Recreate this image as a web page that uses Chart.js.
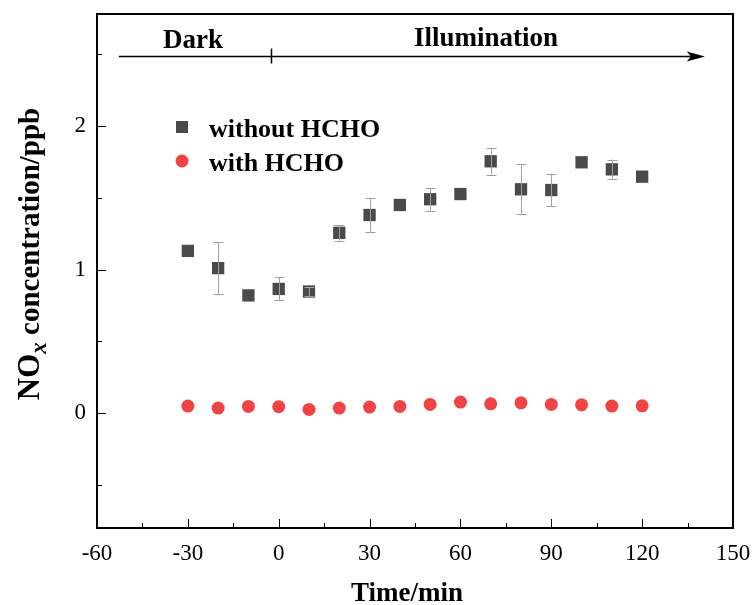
<!DOCTYPE html>
<html>
<head>
<meta charset="utf-8">
<script src="https://cdn.jsdelivr.net/npm/chart.js@4"></script>
<style>
html,body{margin:0;padding:0;background:#fff;}
#wrap{width:756px;height:605px;position:relative;}
</style>
</head>
<body>
<div id="wrap"><canvas id="c" width="756" height="605"></canvas></div>
<script>
// ---- data ----
const times = [-30, -20, -10, 0, 10, 20, 30, 40, 50, 60, 70, 80, 90, 100, 110, 120];
const withoutHCHO = [1.13, 1.01, 0.82, 0.865, 0.847, 1.256, 1.38, 1.45, 1.49, 1.526, 1.754, 1.559, 1.554, 1.747, 1.698, 1.647];
const withoutErr  = [0.0, 0.18, 0.0, 0.08, 0.03, 0.055, 0.12, 0.0, 0.08, 0.0, 0.094, 0.174, 0.114, 0.0, 0.068, 0.0];
const withHCHO = [0.049, 0.035, 0.047, 0.045, 0.026, 0.035, 0.042, 0.047, 0.061, 0.077, 0.065, 0.072, 0.061, 0.058, 0.049, 0.051];
const xTicks = [-60, -30, 0, 30, 60, 90, 120, 150];
const xMinor = [-45, -15, 15, 45, 75, 105, 135];
const yTicks = [0, 1, 2];
const yMinor = [-0.5, 0.5, 1.5, 2.5];
const seriesNames = ['without HCHO', 'with HCHO'];
const phaseLabels = ['Dark', 'Illumination'];
const arrowY = 2.485, arrowStart = -52.8, arrowEnd = 140.7, phaseSplit = -2.6;

const SERIF = '"Liberation Serif", "Times New Roman", serif';
const GRAY = '#4a4a4a', RED = '#f04444';

const overlay = {
  id: 'overlay',
  afterDatasetsDraw(chart) {
    const ctx = chart.ctx, xs = chart.scales.x, ys = chart.scales.y;
    ctx.save();
    ctx.strokeStyle = '#a0a0a0'; ctx.lineWidth = 1;
    times.forEach((t, i) => {
      const e = withoutErr[i]; if (!e) return;
      const px = Math.round(xs.getPixelForValue(t)) + 0.5;
      const y1 = ys.getPixelForValue(withoutHCHO[i] + e), y2 = ys.getPixelForValue(withoutHCHO[i] - e);
      ctx.beginPath();
      ctx.moveTo(px, y1); ctx.lineTo(px, y2);
      ctx.moveTo(px - 5, Math.round(y1) + 0.5); ctx.lineTo(px + 5, Math.round(y1) + 0.5);
      ctx.moveTo(px - 5, Math.round(y2) + 0.5); ctx.lineTo(px + 5, Math.round(y2) + 0.5);
      ctx.stroke();
    });
    ctx.restore();
  },
  beforeDatasetsDraw(chart) {
    const ctx = chart.ctx, xs = chart.scales.x, ys = chart.scales.y, a = chart.chartArea;
    ctx.save();
    ctx.strokeStyle = '#000'; ctx.lineWidth = 1;
    ctx.beginPath();
    xTicks.forEach(v => { const p = Math.round(xs.getPixelForValue(v)) + 0.5; ctx.moveTo(p, a.bottom); ctx.lineTo(p, a.bottom - 9); });
    xMinor.forEach(v => { const p = Math.round(xs.getPixelForValue(v)) + 0.5; ctx.moveTo(p, a.bottom); ctx.lineTo(p, a.bottom - 5); });
    yTicks.forEach(v => { const p = Math.round(ys.getPixelForValue(v)) + 0.5; ctx.moveTo(a.left, p); ctx.lineTo(a.left + 9, p); });
    yMinor.forEach(v => { const p = Math.round(ys.getPixelForValue(v)) + 0.5; ctx.moveTo(a.left, p); ctx.lineTo(a.left + 5, p); });
    ctx.stroke();
    // arrow
    const ay = Math.round(ys.getPixelForValue(arrowY)) + 0.5;
    const ax1 = xs.getPixelForValue(arrowStart), ax2 = xs.getPixelForValue(arrowEnd);
    ctx.lineWidth = 1.5;
    ctx.beginPath(); ctx.moveTo(ax1, ay); ctx.lineTo(ax2 - 14, ay); ctx.stroke();
    ctx.fillStyle = '#000';
    ctx.beginPath(); ctx.moveTo(ax2, ay); ctx.lineTo(ax2 - 18, ay - 5); ctx.lineTo(ax2 - 14, ay); ctx.lineTo(ax2 - 18, ay + 5); ctx.closePath(); ctx.fill();
    const sx = Math.round(xs.getPixelForValue(phaseSplit)) + 0.5;
    ctx.beginPath(); ctx.moveTo(sx, ay - 8); ctx.lineTo(sx, ay + 7); ctx.stroke();
    // phase labels
    ctx.font = 'bold 27px ' + SERIF; ctx.textAlign = 'center'; ctx.textBaseline = 'alphabetic';
    ctx.fillText(phaseLabels[0], 193, 48);
    ctx.fillText(phaseLabels[1], 486, 46);
    // frame
    ctx.lineWidth = 2;
    ctx.strokeRect(a.left, a.top, a.right - a.left, a.bottom - a.top);
    // legend
    ctx.fillStyle = GRAY;
    ctx.fillRect(176, 121, 12, 12);
    ctx.fillStyle = RED;
    ctx.beginPath(); ctx.arc(182, 161, 6.5, 0, Math.PI * 2); ctx.fill();
    ctx.fillStyle = '#000'; ctx.textAlign = 'left'; ctx.textBaseline = 'alphabetic';
    ctx.font = 'bold 26px ' + SERIF;
    ctx.fillText(seriesNames[0], 209, 137);
    ctx.fillText(seriesNames[1], 209, 171);
    // axis titles
    ctx.font = 'bold 27px ' + SERIF; ctx.textAlign = 'center';
    ctx.fillText('Time/min', 407, 601);
    // y title with subscript
    ctx.translate(39, 254); ctx.rotate(-Math.PI / 2);
    const p1 = 'NO', p2 = 'x', p3 = ' concentration/ppb';
    const f1 = 'bold 31px ' + SERIF, f2 = 'bold italic 23px ' + SERIF, f3 = 'bold 29px ' + SERIF;
    ctx.font = f1; const w1 = ctx.measureText(p1).width;
    ctx.font = f2; const w2 = ctx.measureText(p2).width;
    ctx.font = f3; const w3 = ctx.measureText(p3).width;
    let x0 = -(w1 + w2 + w3) / 2;
    ctx.textAlign = 'left';
    ctx.font = f1; ctx.fillText(p1, x0, 0); x0 += w1;
    ctx.font = f2; ctx.fillText(p2, x0, 7); x0 += w2;
    ctx.font = f3; ctx.fillText(p3, x0, 0);
    ctx.restore();
  }
};

function noPad(s) { s.paddingLeft = 0; s.paddingRight = 0; s.paddingTop = 0; s.paddingBottom = 0; }

new Chart(document.getElementById('c'), {
  type: 'scatter',
  data: {
    datasets: [
      { label: seriesNames[0], data: times.map((t, i) => ({ x: t, y: withoutHCHO[i] })),
        pointStyle: 'rect', pointRadius: 8.7, backgroundColor: GRAY, borderColor: GRAY, borderWidth: 0, pointHoverRadius: 8.7 },
      { label: seriesNames[1], data: times.map((t, i) => ({ x: t, y: withHCHO[i] })),
        pointStyle: 'circle', pointRadius: 6.5, backgroundColor: RED, borderColor: RED, borderWidth: 0, pointHoverRadius: 6.5 }
    ]
  },
  options: {
    responsive: false, animation: false,
    layout: { padding: { top: 14, right: 23, left: 0, bottom: 0 } },
    plugins: { legend: { display: false }, tooltip: { enabled: false } },
    scales: {
      x: {
        type: 'linear', min: -60, max: 150,
        afterBuildTicks: s => { s.ticks = xTicks.map(v => ({ value: v })); },
        afterFit: s => { s.height = 77; noPad(s); },
        grid: { display: false, drawTicks: false },
        border: { display: false },
        ticks: { padding: 12, color: '#000', font: { family: SERIF, size: 23 }, maxRotation: 0, autoSkip: false }
      },
      y: {
        type: 'linear', min: -0.8, max: 2.78,
        afterBuildTicks: s => { s.ticks = yTicks.map(v => ({ value: v })); },
        afterFit: s => { s.width = 97; noPad(s); },
        grid: { display: false, drawTicks: false },
        border: { display: false },
        ticks: { padding: 11, color: '#000', font: { family: SERIF, size: 23 } }
      }
    }
  },
  plugins: [overlay]
});
</script>
</body>
</html>
